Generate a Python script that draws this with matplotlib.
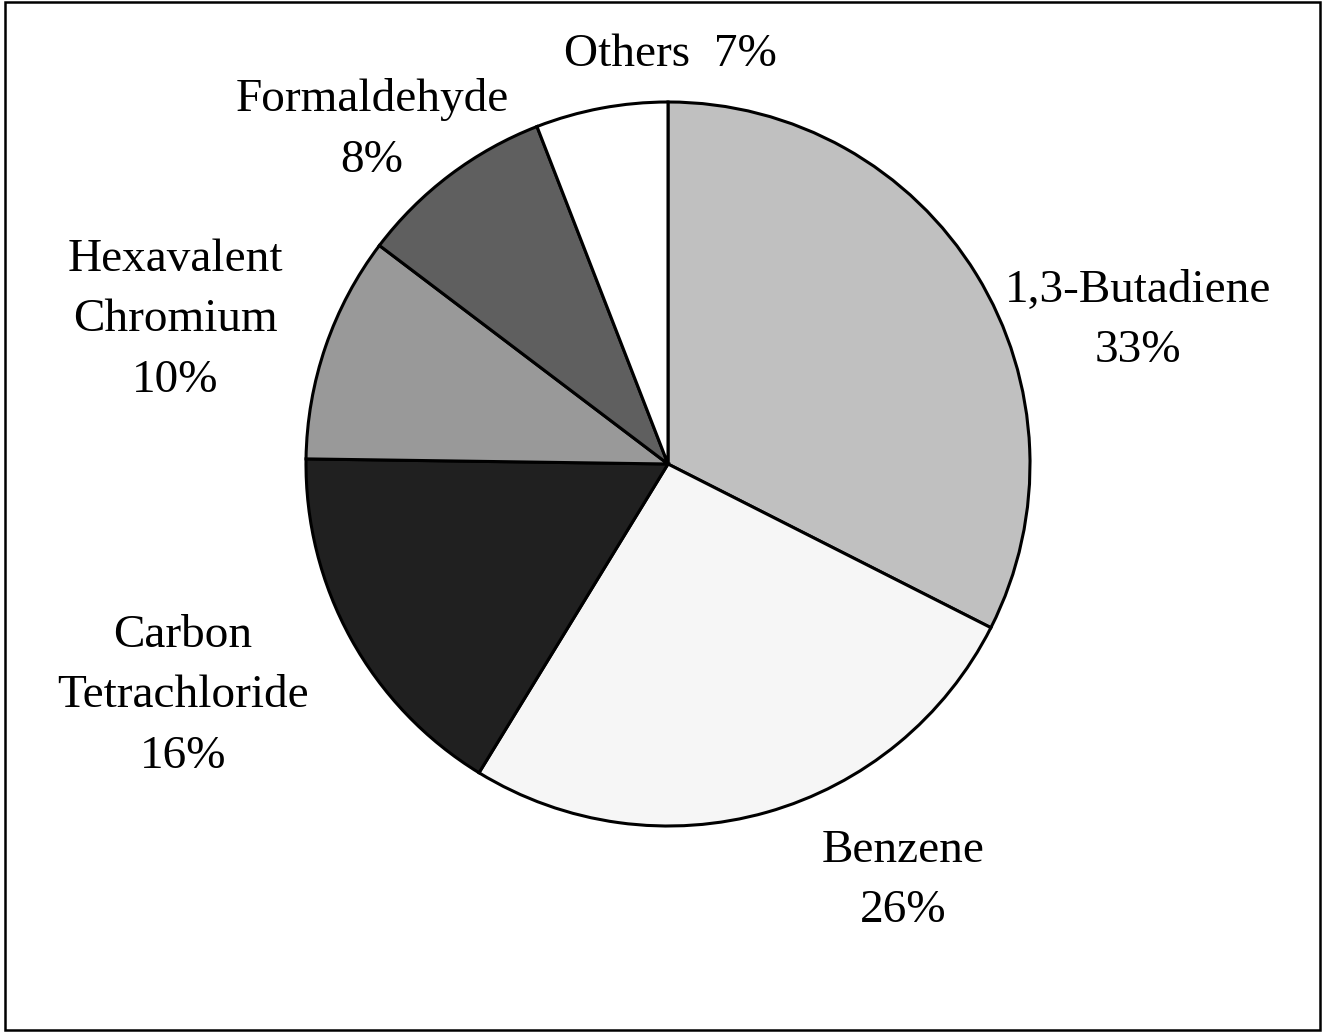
import matplotlib
matplotlib.use("Agg")
import matplotlib.pyplot as plt
from matplotlib.patches import Rectangle

categories = ["1,3-Butadiene", "Benzene", "Carbon\nTetrachloride", "Hexavalent\nChromium", "Formaldehyde", "Others"]
values = [32.5, 26.3, 16.5, 10.1, 8.8, 5.9]
pct_labels = ["33%", "26%", "16%", "10%", "8%", "7%"]
colors = ["#c0c0c0", "#f6f6f6", "#202020", "#999999", "#5f5f5f", "#ffffff"]

W, H = 1326, 1032
fig = plt.figure(figsize=(W / 100, H / 100), dpi=100)
ax = fig.add_axes([0, 0, 1, 1])

cx, cy, r = 668, H - 464, 362
ax.pie(values, colors=colors, startangle=90, counterclock=False,
       center=(cx, cy), radius=r, frame=True,
       wedgeprops=dict(edgecolor="black", linewidth=2.2))
ax.set_xlim(0, W)
ax.set_ylim(0, H)
ax.axis("off")

font = dict(family="Liberation Serif", fontsize=34, ha="center", va="center", linespacing=1.55)
label_pos = {
    "1,3-Butadiene": (1138, 321),
    "Benzene": (903, 881),
    "Carbon\nTetrachloride": (183, 696),
    "Hexavalent\nChromium": (175, 320),
    "Formaldehyde": (372, 130),
    "Others": (670, 55),
}
for cat, pct in zip(categories, pct_labels):
    x, y = label_pos[cat]
    if cat == "Others":
        txt = cat + "  " + pct
    else:
        txt = cat + "\n" + pct
    ax.text(x, H - y, txt, **font)

fig.add_artist(Rectangle((5 / W, 2 / H), (1320 - 5) / W, (1030 - 2) / H,
                         transform=fig.transFigure, fill=False,
                         edgecolor="black", linewidth=1.8))
fig.savefig("out.png", dpi=100)
